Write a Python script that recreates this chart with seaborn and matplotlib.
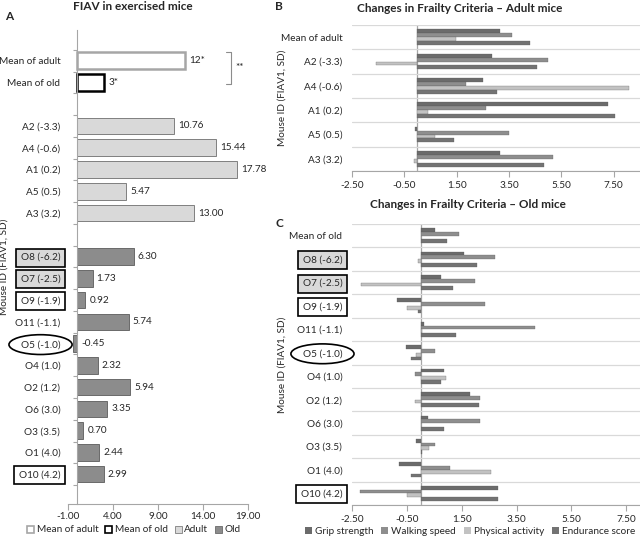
import numpy as np
import pandas as pd
import matplotlib
matplotlib.use('Agg')
import matplotlib.pyplot as plt
from matplotlib.patches import Patch
import seaborn as sns

# --- DATA ---
mean_ids = ['Mean of adult', 'Mean of old']
mean_fiav = [12, 3]
mean_text = ['12*', '3*']

adult_ids = ['A2 (-3.3)', 'A4 (-0.6)', 'A1 (0.2)', 'A5 (0.5)', 'A3 (3.2)']
adult_fiav = [10.76, 15.44, 17.78, 5.47, 13.00]

old_ids = ['O8 (-6.2)', 'O7 (-2.5)', 'O9 (-1.9)', 'O11 (-1.1)', 'O5 (-1.0)', 'O4 (1.0)',
           'O2 (1.2)', 'O6 (3.0)', 'O3 (3.5)', 'O1 (4.0)', 'O10 (4.2)']
old_fiav = [6.30, 1.73, 0.92, 5.74, -0.45, 2.32, 5.94, 3.35, 0.70, 2.44, 2.99]

criteria = ['Grip strength', 'Walking speed', 'Physical activity', 'Endurance score']

adult_rows = ['Mean of adult'] + adult_ids
adult_grip = [3.14, 2.86, 2.51, 7.29, -0.09, 3.16]
adult_walk = [3.63, 5.00, 1.87, 2.60, 3.51, 5.18]
adult_phys = [1.49, -1.58, 8.09, 0.41, 0.67, -0.13]
adult_endu = [4.29, 4.55, 3.05, 7.56, 1.41, 4.85]

old_rows = ['Mean of old'] + old_ids
old_grip = [0.53, 1.58, 0.73, -0.85, 0.12, -0.52, 0.86, 1.79, 0.28, -0.18, -0.80, 2.81]
old_walk = [1.40, 2.72, 1.99, 2.35, 4.16, 0.53, -0.19, 2.18, 2.18, 0.53, 1.09, -2.22]
old_phys = [0.02, -0.10, -2.18, -0.48, 0.07, -0.15, 0.91, -0.20, 0.00, 0.32, 2.55, -0.48]
old_endu = [0.95, 2.05, 1.18, -0.08, 1.30, -0.36, 0.74, 2.13, 0.87, 0.04, -0.36, 2.84]

gray_box_ids = ['O8 (-6.2)', 'O7 (-2.5)']
white_box_ids = ['O9 (-1.9)', 'O10 (4.2)']
ellipse_ids = ['O5 (-1.0)']

# --- STYLE ---
sns.set_theme(style='white')
plt.rcParams['font.family'] = ['Lato', 'DejaVu Sans']
plt.rcParams['text.color'] = '#262626'
plt.rcParams['xtick.color'] = '#262626'
plt.rcParams['ytick.color'] = '#262626'

group_colors = {'Mean of adult': 'white', 'Mean of old': 'white', 'Adult': '#d9d9d9', 'Old': '#8c8c8c'}
group_edges = {'Mean of adult': ('#a6a6a6', 1.8), 'Mean of old': ('black', 1.8),
               'Adult': ('#7f7f7f', 0.7), 'Old': ('#6a6a6a', 0.7)}
crit_colors = dict(zip(criteria, ['#6b6b6b', '#8e8e8e', '#c2c2c2', '#737373']))
FS = 7.2

W, H = 640, 538
fig = plt.figure(figsize=(6.4, 5.38), dpi=100)


def px_axes(x0, y0, x1, y1):
    return fig.add_axes([x0 / W, 1 - y1 / H, (x1 - x0) / W, (y1 - y0) / H])


def box_labels(ax):
    for lab in ax.get_yticklabels():
        t = lab.get_text()
        if t in gray_box_ids:
            lab.set_bbox(dict(boxstyle='square,pad=0.45', fc='#d9d9d9', ec='black', lw=1.2))
        elif t in white_box_ids:
            lab.set_bbox(dict(boxstyle='square,pad=0.45', fc='white', ec='black', lw=1.2))
        elif t in ellipse_ids:
            lab.set_bbox(dict(boxstyle='ellipse,pad=0.25', fc='white', ec='black', lw=1.2))


# ==========================================
# A. FIAV in exercised mice
# ==========================================
axA = px_axes(68, 30, 248, 504)
order_a = mean_ids + [' '] + adult_ids + ['  '] + old_ids
df_a = pd.DataFrame({
    'id': mean_ids + adult_ids + old_ids,
    'fiav': mean_fiav + adult_fiav + old_fiav,
    'group': mean_ids + ['Adult'] * len(adult_ids) + ['Old'] * len(old_ids),
})
sns.barplot(data=df_a, y='id', x='fiav', hue='group', order=order_a,
            hue_order=list(group_colors), palette=group_colors, dodge=False,
            width=0.76, saturation=1, errorbar=None, legend=False, ax=axA)

group_of = dict(zip(df_a['id'], df_a['group']))
for p in axA.patches:
    idx = int(round(p.get_y() + p.get_height() / 2))
    if 0 <= idx < len(order_a) and order_a[idx] in group_of:
        ec, lw = group_edges[group_of[order_a[idx]]]
        p.set_edgecolor(ec)
        p.set_linewidth(lw)

labels_a = mean_text + [f'{v:.2f}' for v in adult_fiav + old_fiav]
for name, val, txt in zip(df_a['id'], df_a['fiav'], labels_a):
    axA.text(max(val, 0) + 0.45, order_a.index(name), txt, va='center', ha='left', fontsize=FS)

# spine first: moving it resets the ticks
axA.spines['left'].set_position(('data', 0))
for s in ['top', 'right']:
    axA.spines[s].set_visible(False)
for s in ['left', 'bottom']:
    axA.spines[s].set_color('#a6a6a6')
    axA.spines[s].set_linewidth(0.8)

axA.set_xlim(-1, 19)
axA.set_xticks(np.arange(-1, 19.1, 5))
axA.set_xticklabels([f'{v:.2f}' for v in np.arange(-1, 19.1, 5)], fontsize=FS)
axA.set_yticks(range(len(order_a)))
axA.set_yticklabels(order_a, fontsize=FS)
axA.set_yticks(np.arange(-0.5, len(order_a), 1), minor=True)
axA.tick_params(axis='y', which='major', length=0, pad=12)
axA.tick_params(axis='y', which='minor', left=True, length=3, color='#a6a6a6', width=0.8)
axA.tick_params(axis='x', which='major', bottom=True, length=4, color='#a6a6a6', width=0.8, pad=2)
axA.set_xlabel('')
axA.set_ylabel('Mouse ID (FIAV1, SD)', fontsize=FS)
axA.yaxis.set_label_coords(-0.33, 0.5)
box_labels(axA)

# significance bracket
axA.plot([16.5, 17.1, 17.1, 16.5], [-0.42, -0.42, 1.05, 1.05], color='#8c8c8c', lw=0.8, clip_on=False)
axA.text(17.6, 0.32, '**', fontsize=FS, va='center', ha='left')

fig.text(133 / W, 1 - 7 / H, 'FIAV in exercised mice', fontsize=8.5, fontweight='bold', ha='center', va='center')
fig.text(5 / W, 1 - 16 / H, 'A', fontsize=8.5, fontweight='bold', ha='left', va='center')

leg_a = [Patch(fc='white', ec='#a6a6a6', lw=1.2, label='Mean of adult'),
         Patch(fc='white', ec='black', lw=1.2, label='Mean of old'),
         Patch(fc='#d9d9d9', ec='#7f7f7f', lw=0.6, label='Adult'),
         Patch(fc='#8c8c8c', ec='#6a6a6a', lw=0.6, label='Old')]
fig.legend(handles=leg_a, loc='center', bbox_to_anchor=(134 / W, 1 - 530 / H), ncol=4, frameon=False,
           fontsize=FS, handlelength=0.7, handleheight=0.7, handletextpad=0.25, columnspacing=0.7,
           borderpad=0, borderaxespad=0)


# ==========================================
# B / C. Changes in frailty criteria
# ==========================================
def criteria_panel(ax, rows, grip, walk, phys, endu, xmax):
    df = pd.DataFrame({'id': rows, criteria[0]: grip, criteria[1]: walk,
                       criteria[2]: phys, criteria[3]: endu})
    df = df.melt(id_vars='id', var_name='criterion', value_name='change')
    ax.axvline(0, color='#a6a6a6', lw=0.9, zorder=0)
    sns.barplot(data=df, y='id', x='change', hue='criterion', order=rows, hue_order=criteria,
                palette=crit_colors, width=0.64, saturation=1, errorbar=None, legend=False,
                edgecolor='#5a5a5a', linewidth=0.2, ax=ax)
    ticks = np.arange(-2.5, 7.6, 2)
    ax.set_xlim(-2.5, xmax)
    ax.set_xticks(ticks)
    ax.set_xticklabels([f'{v:.2f}' for v in ticks], fontsize=FS)
    ax.set_yticks(range(len(rows)))
    ax.set_yticklabels(rows, fontsize=FS)
    ax.set_yticks(np.arange(-0.5, len(rows), 1), minor=True)
    ax.grid(False)
    ax.grid(which='minor', axis='y', color='#d9d9d9', lw=0.9)
    ax.tick_params(axis='y', which='both', length=0, pad=7)
    ax.tick_params(axis='x', which='major', bottom=True, length=4, color='#a6a6a6', width=0.8, pad=3)
    for s in ['top', 'right', 'left']:
        ax.spines[s].set_visible(False)
    ax.spines['bottom'].set_color('#a6a6a6')
    ax.spines['bottom'].set_linewidth(0.8)
    ax.set_xlabel('')
    ax.set_ylabel('Mouse ID (FIAV1, SD)', fontsize=FS)
    ax.yaxis.set_label_coords(-0.228, 0.5)
    box_labels(ax)


axB = px_axes(352, 25, 640, 171)
criteria_panel(axB, adult_rows, adult_grip, adult_walk, adult_phys, adult_endu, 8.5)
fig.text(460 / W, 1 - 8 / H, 'Changes in Frailty Criteria \u2013 Adult mice', fontsize=8.5,
         fontweight='bold', ha='center', va='center')
fig.text(275 / W, 1 - 7 / H, 'B', fontsize=8.5, fontweight='bold', ha='left', va='center')

axC = px_axes(352, 224, 640, 505)
criteria_panel(axC, old_rows, old_grip, old_walk, old_phys, old_endu, 8.0)
fig.text(468 / W, 1 - 204 / H, 'Changes in Frailty Criteria \u2013 Old mice', fontsize=8.5,
         fontweight='bold', ha='center', va='center')
fig.text(275 / W, 1 - 223 / H, 'C', fontsize=8.5, fontweight='bold', ha='left', va='center')

leg_c = [Patch(fc=crit_colors[c], ec='none', label=c) for c in criteria]
fig.legend(handles=leg_c, loc='center', bbox_to_anchor=(470 / W, 1 - 531 / H), ncol=4, frameon=False,
           fontsize=FS, handlelength=0.7, handleheight=0.7, handletextpad=0.3, columnspacing=0.8,
           borderpad=0, borderaxespad=0)

plt.savefig('out.png', dpi=100)
plt.close()
